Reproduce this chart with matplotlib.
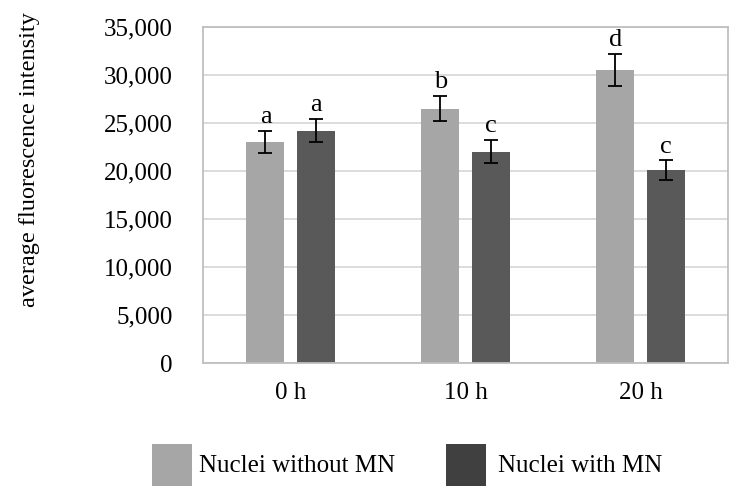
import numpy as np
import matplotlib
matplotlib.use("Agg")
import matplotlib.pyplot as plt
from matplotlib.patches import Rectangle

categories = ["0 h", "10 h", "20 h"]
without_mn = [23000, 26500, 30500]
without_err = [1150, 1300, 1650]
with_mn = [24200, 22000, 20100]
with_err = [1200, 1200, 1000]
letters_without = ["a", "b", "d"]
letters_with = ["a", "c", "c"]
y_ticks = [0, 5000, 10000, 15000, 20000, 25000, 30000, 35000]
legend_labels = ["Nuclei without MN", "Nuclei with MN"]

LIGHT = "#A6A6A6"
DARK = "#595959"
FONT = "Liberation Serif"

fig = plt.figure(figsize=(7.54, 4.86), dpi=100)
ax = fig.add_axes([203 / 754, 1 - 363 / 486, 525 / 754, 336 / 486])

x = np.arange(len(categories))
w = 0.217
off = 0.143
ax.bar(x - off, without_mn, w, color=LIGHT, zorder=2)
ax.bar(x + off, with_mn, w, color=DARK, zorder=2)
ax.errorbar(x - off, without_mn, yerr=without_err, fmt="none", ecolor="black",
            elinewidth=1.3, capsize=5, capthick=1.3, zorder=3)
ax.errorbar(x + off, with_mn, yerr=with_err, fmt="none", ecolor="black",
            elinewidth=1.3, capsize=5, capthick=1.3, zorder=3)

for xi, v, e, t in zip(x - off, without_mn, without_err, letters_without):
    ax.text(xi, v + e + 300, t, ha="center", va="bottom", fontsize=19, family=FONT)
for xi, v, e, t in zip(x + off, with_mn, with_err, letters_with):
    ax.text(xi, v + e + 300, t, ha="center", va="bottom", fontsize=19, family=FONT)

ax.set_xlim(-0.5, 2.5)
ax.set_ylim(0, 35000)
ax.set_yticks(y_ticks)
ax.set_yticklabels([f"{t:,}" for t in y_ticks], family=FONT, fontsize=18)
ax.set_xticks(x)
ax.set_xticklabels(categories, family=FONT, fontsize=18)
ax.tick_params(length=0)
ax.tick_params(axis="y", pad=22)
ax.tick_params(axis="x", pad=14)
ax.grid(axis="y", color="#D9D9D9", linewidth=1.3, zorder=0)
ax.set_axisbelow(True)
for s in ax.spines.values():
    s.set_color("#BFBFBF")
    s.set_linewidth(1.3)

fig.text(30 / 754, 1 - 160 / 486, "average fluorescence intensity", rotation=90,
         ha="center", va="center", family=FONT, fontsize=17.5)

# legend drawn by hand at its place below the axes
for (x0, col, lab, tx) in [(152, LIGHT, legend_labels[0], 199),
                           (446, "#404040", legend_labels[1], 498)]:
    fig.patches.append(Rectangle((x0 / 754, 0), 40 / 754, 42 / 486,
                                 transform=fig.transFigure, facecolor=col,
                                 edgecolor="none"))
    fig.text(tx / 754, 1 - 466 / 486, lab, ha="left", va="center",
             family=FONT, fontsize=18)

fig.savefig("out.png", dpi=100)
